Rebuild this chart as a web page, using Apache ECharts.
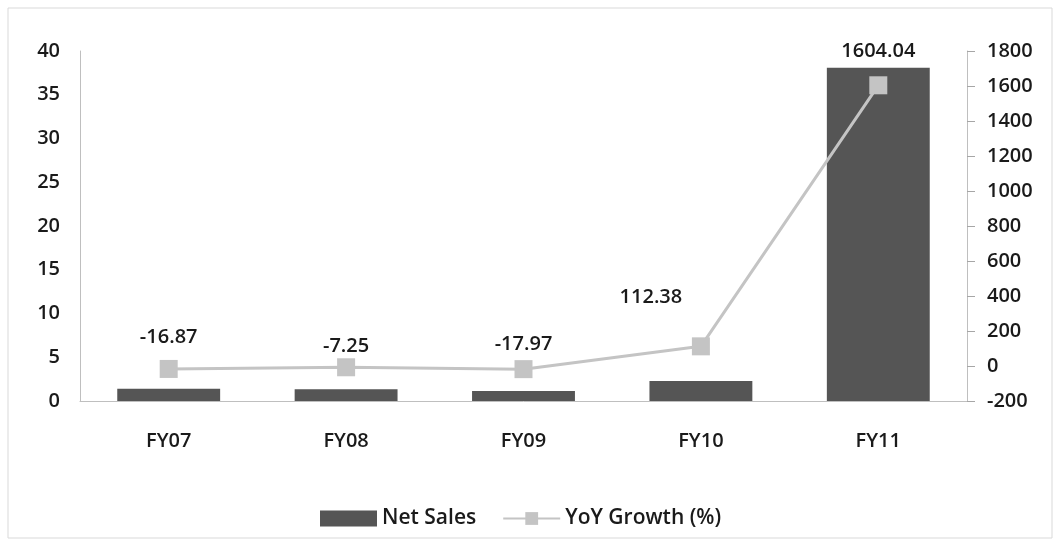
<!DOCTYPE html>
<html>
<head>
<meta charset="utf-8">
<script src="https://cdn.jsdelivr.net/npm/echarts@6/dist/echarts.min.js"></script>
<style>
  html, body { margin: 0; padding: 0; background: #ffffff; }
  #chart { width: 1055px; height: 544px; }
</style>
</head>
<body>
<div id="chart"></div>
<script>
// Fiscal years on the category axis
const years = ['FY07', 'FY08', 'FY09', 'FY10', 'FY11'];
// Net sales (left axis)
const netSales = [1.4, 1.35, 1.15, 2.3, 38.1];
// Year-on-year growth in percent (right axis)
const yoyGrowth = [-16.87, -7.25, -17.97, 112.38, 1604.04];
// Tick labels for both value axes
const leftTicks = [0, 5, 10, 15, 20, 25, 30, 35, 40];
const rightTicks = [-200, 0, 200, 400, 600, 800, 1000, 1200, 1400, 1600, 1800];

// Label offsets per point so the numbers sit clear of the line
const labelOffsets = [[0, -5], [0, 6], [0, 2], [-50, -22], [0, -7]];

const font = 'Open Sans';
const textColor = '#1a1a1a';
const textWeight = 600;

const chart = echarts.init(document.getElementById('chart'));

chart.setOption({
  animation: false,
  textStyle: { fontFamily: font },
  graphic: [{
    type: 'rect',
    shape: { x: 8, y: 8, width: 1044, height: 530 },
    style: { fill: 'none', stroke: '#d9d9d9', lineWidth: 1 },
    silent: true
  }],
  grid: { left: 80, right: 88, top: 51, bottom: 143 },
  legend: {
    left: 315,
    top: 503,
    itemGap: 26,
    itemWidth: 57,
    itemHeight: 16,
    textStyle: { fontFamily: font, fontSize: 21, fontWeight: textWeight, color: textColor },
    data: [
      { name: 'Net Sales', icon: 'rect' },
      { name: 'YoY Growth (%)' }
    ]
  },
  xAxis: {
    type: 'category',
    data: years,
    axisLine: { lineStyle: { color: '#bfbfbf', width: 1 } },
    axisTick: { show: false },
    axisLabel: { margin: 30, fontSize: 20, fontWeight: textWeight, color: textColor, fontFamily: font }
  },
  yAxis: [
    {
      type: 'value',
      min: leftTicks[0],
      max: leftTicks[leftTicks.length - 1],
      interval: 5,
      splitLine: { show: false },
      axisLine: { show: true, lineStyle: { color: '#bfbfbf', width: 1 } },
      axisTick: { show: false },
      axisLabel: {
        margin: 20, fontSize: 20, fontWeight: textWeight, color: textColor, fontFamily: font,
        formatter: v => String(v)
      }
    },
    {
      type: 'value',
      position: 'right',
      min: rightTicks[0],
      max: rightTicks[rightTicks.length - 1],
      interval: 200,
      splitLine: { show: false },
      axisLine: { show: true, lineStyle: { color: '#bfbfbf', width: 1 } },
      axisTick: { show: true, length: 8, lineStyle: { color: '#a6a6a6' } },
      axisLabel: {
        margin: 20, fontSize: 20, fontWeight: textWeight, color: textColor, fontFamily: font,
        formatter: v => String(v)
      }
    }
  ],
  series: [
    {
      name: 'Net Sales',
      type: 'bar',
      yAxisIndex: 0,
      data: netSales,
      barWidth: '58%',
      itemStyle: { color: '#555555' }
    },
    {
      name: 'YoY Growth (%)',
      type: 'line',
      yAxisIndex: 1,
      data: yoyGrowth.map((v, i) => ({
        value: v,
        label: { offset: labelOffsets[i] }
      })),
      symbol: 'rect',
      symbolSize: 18,
      lineStyle: { color: '#c4c4c4', width: 3 },
      itemStyle: { color: '#c4c4c4' },
      label: {
        show: true,
        position: 'top',
        distance: 8,
        fontSize: 20,
        fontWeight: textWeight,
        color: textColor,
        fontFamily: font,
        formatter: p => p.value.toFixed(2)
      },
      z: 5
    }
  ]
});
</script>
</body>
</html>
